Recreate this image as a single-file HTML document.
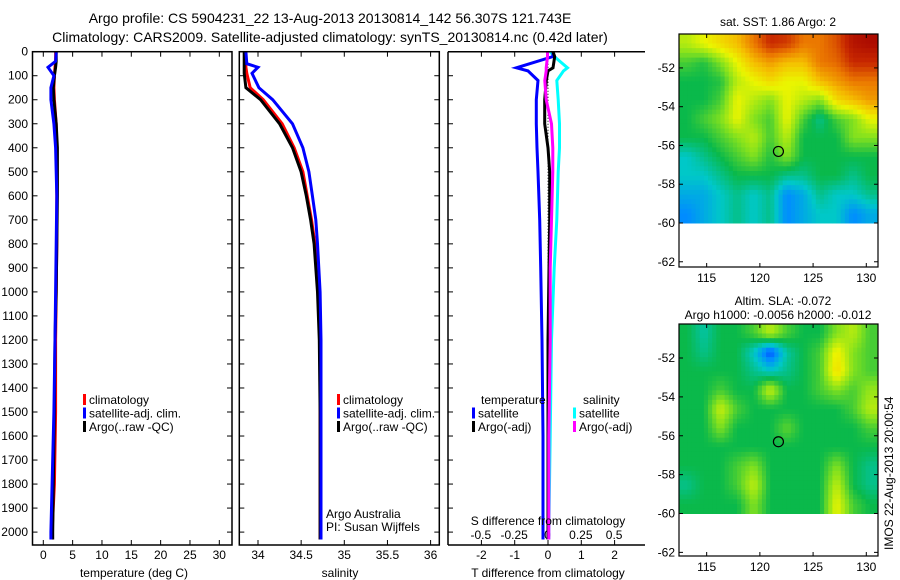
<!DOCTYPE html>
<html><head><meta charset="utf-8"><style>
html,body{margin:0;padding:0;background:#fff;}
svg{display:block;font-family:"Liberation Sans",sans-serif;}
</style></head><body>
<svg id="fig" width="900" height="580" viewBox="0 0 900 580"></svg>
<script>
// ---------- data ----------
const depthT = [0,40,65,100,150,200,300,400,500,600,800,1000,1200,1500,1800,2000,2031];
const argoT  = [2.2,2.2,2.1,1.9,1.7,1.8,2.2,2.4,2.4,2.4,2.3,2.2,2.0,1.9,1.7,1.6,1.6];
const climT  = [2.1,2.1,2.0,1.9,1.8,1.9,2.2,2.3,2.3,2.3,2.3,2.2,2.1,2.1,1.9,1.5,1.4];
const satT   = [2.2,2.1,0.8,1.8,1.3,1.3,1.8,2.1,2.2,2.3,2.2,2.1,2.0,1.8,1.5,1.3,1.3];
const depthS = [0,50,65,90,150,200,300,400,500,600,700,800,1000,1200,1500,2000,2031];
const argoS  = [33.84,33.84,33.84,33.84,33.86,34.03,34.25,34.40,34.50,34.56,34.61,34.65,34.69,34.71,34.72,34.72,34.72];
const climS  = [33.85,33.86,33.86,33.87,33.91,34.06,34.28,34.42,34.52,34.57,34.62,34.66,34.70,34.72,34.72,34.72,34.72];
const satS   = [33.86,33.87,34.00,33.93,34.01,34.17,34.40,34.52,34.59,34.63,34.67,34.69,34.72,34.73,34.73,34.73,34.73];
const depthD = [0,20,67,80,120,200,300,400,500,700,900,1200,1600,2000,2031];
const satTd  = [0.15,0.15,-0.95,-0.6,-0.3,-0.35,-0.35,-0.33,-0.3,-0.25,-0.22,-0.18,-0.15,-0.15,-0.15];
const argoTd = [0.15,0.2,0.15,0.0,-0.05,-0.1,-0.1,0.0,0.05,0.05,0.03,0.0,0.0,0.0,0.0];
const satSd  = [0.02,0.05,0.15,0.12,0.07,0.08,0.09,0.09,0.08,0.07,0.05,0.03,0.02,0.01,0.01];
const argoSd = [0.0,0.0,-0.01,-0.01,-0.02,-0.01,0.03,0.04,0.04,0.03,0.02,0.02,0.01,0.01,0.01];
const depthTicks = [0,100,200,300,400,500,600,700,800,900,1000,1100,1200,1300,1400,1500,1600,1700,1800,1900,2000];
const tempTicks = [0,5,10,15,20,25,30];
const salTicks = [34,34.5,35,35.5,36];
const tdTicks = [-2,-1,0,1,2];
const sdTicks = [-0.5,-0.25,0,0.25,0.5];
const sdTickLabels = ["-0.5","-0.25","0","0.25","0.5"];
const latTicks = [-52,-54,-56,-58,-60,-62];
const lonTicks = [115,120,125,130];
const sstGrid = [
[0.55,0.6,0.65,0.7,0.8,0.9,0.88,0.8,0.8,0.85,0.95,0.97],
[0.45,0.42,0.5,0.6,0.7,0.75,0.7,0.7,0.8,0.82,0.9,0.9],
[0.4,0.4,0.42,0.55,0.6,0.65,0.6,0.6,0.7,0.75,0.8,0.8],
[0.4,0.4,0.45,0.6,0.55,0.5,0.6,0.55,0.5,0.65,0.7,0.75],
[0.4,0.45,0.5,0.6,0.5,0.45,0.6,0.45,0.35,0.45,0.5,0.6],
[0.4,0.4,0.45,0.5,0.55,0.45,0.55,0.4,0.4,0.4,0.5,0.5],
[0.3,0.35,0.4,0.45,0.5,0.42,0.5,0.4,0.4,0.4,0.4,0.4],
[0.3,0.3,0.35,0.4,0.4,0.4,0.35,0.35,0.4,0.4,0.35,0.4],
[0.25,0.25,0.3,0.35,0.3,0.35,0.2,0.25,0.35,0.3,0.3,0.35],
[0.2,0.25,0.3,0.35,0.3,0.35,0.2,0.25,0.3,0.3,0.2,0.25]];
const slaGrid = [
[0.4,0.33,0.4,0.4,0.45,0.55,0.45,0.4,0.4,0.5,0.55,0.45],
[0.4,0.35,0.4,0.4,0.3,0.12,0.33,0.4,0.45,0.62,0.5,0.45],
[0.4,0.4,0.4,0.4,0.35,0.3,0.35,0.4,0.45,0.65,0.5,0.45],
[0.4,0.4,0.45,0.4,0.4,0.57,0.4,0.4,0.45,0.5,0.45,0.52],
[0.4,0.4,0.57,0.45,0.4,0.4,0.4,0.4,0.4,0.4,0.45,0.55],
[0.4,0.4,0.5,0.4,0.4,0.4,0.47,0.4,0.4,0.4,0.4,0.45],
[0.4,0.4,0.4,0.4,0.4,0.4,0.4,0.4,0.4,0.4,0.4,0.4],
[0.4,0.4,0.4,0.45,0.5,0.4,0.4,0.4,0.4,0.5,0.4,0.35],
[0.35,0.4,0.4,0.45,0.56,0.4,0.4,0.4,0.4,0.56,0.4,0.35],
[0.4,0.4,0.4,0.4,0.5,0.4,0.4,0.4,0.4,0.6,0.45,0.4]];
const argoLon = 121.743, argoLat = -56.307;

// ---------- helpers ----------
const NS="http://www.w3.org/2000/svg";
const svg=document.getElementById('fig');
function mk(tag,attrs,parent){const e=document.createElementNS(NS,tag);for(const k in attrs)e.setAttribute(k,attrs[k]);(parent||svg).appendChild(e);return e;}
function txt(s,x,y,anchor,size){const t=mk('text',{x:x,y:y,'text-anchor':anchor||'start','font-size':size||12,fill:'#000'});t.textContent=s;return t;}
const yD = d => 51.7 + d*0.2402;
const xT = v => 43.3 + v*5.867;
const xS = v => 258 + (v-34)*86.3;
const xTd = v => 548 + v*33.3;
const xSd = v => 547.5 + v*133.3;
function line(xs,ds,fx,color,name,w,dash){
  const pts=xs.map((v,i)=>fx(v).toFixed(1)+','+yD(ds[i]).toFixed(1)).join(' ');
  const p=mk('polyline',{points:pts,fill:'none',stroke:color,'stroke-width':w||3,'stroke-linejoin':'miter'});
  if(dash)p.setAttribute('stroke-dasharray',dash);
  
  
}
function frame(x,y,w,h,name){const r=mk('rect',{x:x,y:y,width:w,height:h,fill:'none',stroke:'#000','stroke-width':1.5});
  }

// ---------- titles ----------
let t=txt('Argo profile: CS 5904231_22 13-Aug-2013 20130814_142 56.307S 121.743E',330,23,'middle',14);

t=txt('Climatology: CARS2009. Satellite-adjusted climatology: synTS_20130814.nc (0.42d later)',330,42,'middle',14);


// ---------- panel 1 temperature ----------
const P1={l:32.5,r:232,t:51.7,b:545};
depthTicks.forEach(d=>{const y=yD(d);mk('line',{x1:P1.l,y1:y,x2:P1.l+5,y2:y,stroke:'#000'});mk('line',{x1:P1.r,y1:y,x2:P1.r-5,y2:y,stroke:'#000'});
  const l=txt(String(d),28,y+4,'end',12);});
tempTicks.forEach(v=>{const x=xT(v);mk('line',{x1:x,y1:P1.b,x2:x,y2:P1.b-5,stroke:'#000'});mk('line',{x1:x,y1:P1.t,x2:x,y2:P1.t+5,stroke:'#000'});
  const l=txt(String(v),x,559,'middle',12);});
line(climT,depthT,xT,'#ff0000','clim-temp-line');
line(argoT,depthT,xT,'#000000','argo-temp-line');
line(satT,depthT,xT,'#0000ff','sat-temp-line');
frame(P1.l,P1.t,P1.r-P1.l,P1.b-P1.t,'temperature-panel');
t=txt('temperature (deg C)',134,577,'middle',12);

// ---------- panel 2 salinity ----------
const P2={l:239.3,r:439.3,t:51.7,b:545};
depthTicks.forEach(d=>{const y=yD(d);mk('line',{x1:P2.l,y1:y,x2:P2.l+5,y2:y,stroke:'#000'});mk('line',{x1:P2.r,y1:y,x2:P2.r-5,y2:y,stroke:'#000'});});
salTicks.forEach(v=>{const x=xS(v);mk('line',{x1:x,y1:P2.b,x2:x,y2:P2.b-5,stroke:'#000'});mk('line',{x1:x,y1:P2.t,x2:x,y2:P2.t+5,stroke:'#000'});
  const l=txt(String(v),x,559,'middle',12);});
line(climS,depthS,xS,'#ff0000','clim-salinity-line');
line(argoS,depthS,xS,'#000000','argo-salinity-line');
line(satS,depthS,xS,'#0000ff','sat-salinity-line');
frame(P2.l,P2.t,P2.r-P2.l,P2.b-P2.t,'salinity-panel');
t=txt('salinity',340,577,'middle',12);
t=txt('Argo Australia',326,518,'start',12);
t=txt('PI: Susan Wijffels',326,531,'start',12);

function legend(x,y,items,prefix){items.forEach((it,i)=>{const yy=y+i*13.5;
  const r=mk('rect',{x:x,y:yy-10,width:3,height:11,fill:it[0]});
  const l=txt(it[1],x+6,yy,'start',12);});}
legend(83,404,[['#ff0000','climatology'],['#0000ff','satellite-adj. clim.'],['#000','Argo(..raw -QC)']],'temp');
legend(337,404,[['#ff0000','climatology'],['#0000ff','satellite-adj. clim.'],['#000','Argo(..raw -QC)']],'sal');

// ---------- panel 3 differences ----------
const P3={l:448,r:645,t:51.7,b:545};
depthTicks.forEach(d=>{const y=yD(d);mk('line',{x1:P3.l,y1:y,x2:P3.l+5,y2:y,stroke:'#000'});});
tdTicks.forEach(v=>{const x=xTd(v);mk('line',{x1:x,y1:P3.b,x2:x,y2:P3.b-5,stroke:'#000'});mk('line',{x1:x,y1:P3.t,x2:x,y2:P3.t+5,stroke:'#000'});
  const l=txt(String(v),x,559,'middle',12);});
sdTicks.forEach((v,i)=>{const l=txt(sdTickLabels[i],xSd(v),539,'middle',12);});
line([0,0],[0,2031],xTd,'#000','zero-line',1,'1,2');
line(satSd,depthD,xSd,'#00ffff','sat-sdiff-line');
line(satTd,depthD,xTd,'#0000ff','sat-tdiff-line');
line(argoTd,depthD,xTd,'#000000','argo-tdiff-line');
line(argoSd,depthD,xSd,'#ff00ff','argo-sdiff-line');
mk('line',{x1:P3.l,y1:P3.t,x2:P3.r,y2:P3.t,stroke:'#000','stroke-width':1.5});
mk('line',{x1:P3.l,y1:P3.t,x2:P3.l,y2:P3.b,stroke:'#000','stroke-width':1.5});
mk('line',{x1:P3.l,y1:P3.b,x2:P3.r,y2:P3.b,stroke:'#000','stroke-width':1.5});
t=txt('temperature',481,404,'start',12);
t=txt('salinity',583,404,'start',12);
legend(472,417.5,[['#0000ff','satellite'],['#000','Argo(-adj)']],'tdiff');
legend(573,417.5,[['#00ffff','satellite'],['#ff00ff','Argo(-adj)']],'sdiff');
t=txt('S difference from climatology',548,525,'middle',12);
t=txt('T difference from climatology',548,577,'middle',12);

// ---------- maps ----------
const stops=[[0.1,[0,60,255]],[0.2,[0,140,255]],[0.3,[0,200,200]],[0.4,[10,185,75]],[0.5,[130,225,30]],[0.6,[235,245,0]],[0.7,[245,190,0]],[0.8,[235,120,0]],[0.9,[200,40,0]],[1.0,[160,0,0]]];
function cmap(v){for(let i=1;i<stops.length;i++){if(v<=stops[i][0]){const a=stops[i-1],b=stops[i],f=(v-a[0])/(b[0]-a[0]);
  return 'rgb('+a[1].map((c,k)=>Math.round(c+(b[1][k]-c)*Math.max(0,f))).join(',')+')';}}return 'rgb(160,0,0)';}
function sample(grid,fi,fj){const nr=grid.length,nc=grid[0].length;
  fi=Math.max(0,Math.min(nr-1,fi));fj=Math.max(0,Math.min(nc-1,fj));
  const i0=Math.floor(fi),j0=Math.floor(fj),i1=Math.min(nr-1,i0+1),j1=Math.min(nc-1,j0+1),a=fi-i0,b=fj-j0;
  return grid[i0][j0]*(1-a)*(1-b)+grid[i0][j1]*(1-a)*b+grid[i1][j0]*a*(1-b)+grid[i1][j1]*a*b;}
function map(M,grid,title1,title2,name){
  const lonX=v=>M.l+(v-112.4)*(M.r-M.l)/(131.1-112.4);
  const latY=v=>M.y0+(v-(-50.25))*(M.y60-M.y0)/(-60-(-50.25));
  const g=mk('g',{});
  const nr=grid.length,nc=grid[0].length,S=4;
  const cw=(M.r-M.l)/(nc*S),ch=(M.y60-M.y0)/(nr*S);
  for(let i=0;i<nr*S;i++)for(let j=0;j<nc*S;j++){
    const v=sample(grid,(i+0.5)/S-0.5,(j+0.5)/S-0.5);
    const c=mk('rect',{x:(M.l+j*cw).toFixed(2),y:(M.y0+i*ch).toFixed(2),width:(cw+0.5).toFixed(2),height:(ch+0.5).toFixed(2),fill:cmap(v)},g);
    }
  const c=mk('circle',{cx:lonX(argoLon),cy:latY(argoLat),r:5,fill:'none',stroke:'#000','stroke-width':1.2},g);
  
  mk('rect',{x:M.l,y:M.y0,width:M.r-M.l,height:M.b-M.y0,fill:'none',stroke:'#000','stroke-width':1.2},g);
  latTicks.forEach(v=>{const y=latY(v);mk('line',{x1:M.l,y1:y,x2:M.l+4,y2:y,stroke:'#000'},g);mk('line',{x1:M.r,y1:y,x2:M.r-4,y2:y,stroke:'#000'},g);
    const l=txt(String(v),M.l-4,y+4,'end',12);});
  lonTicks.forEach(v=>{const x=lonX(v);mk('line',{x1:x,y1:M.b,x2:x,y2:M.b-4,stroke:'#000'},g);mk('line',{x1:x,y1:M.y0,x2:x,y2:M.y0+4,stroke:'#000'},g);
    const l=txt(String(v),x,M.b+15,'middle',12);});
  if(title2){let a=txt(title1,783,M.y0-19,'middle',12);
    a=txt(title2,778,M.y0-5,'middle',12);}
  else{let a=txt(title1,778,M.y0-8,'middle',12);}
}
map({l:679,r:878,y0:34,y60:223,b:267},sstGrid,'sat. SST: 1.86 Argo: 2',null,'sst-map');
map({l:679,r:878,y0:324,y60:513.5,b:556},slaGrid,'Altim. SLA: -0.072','Argo h1000: -0.0056 h2000: -0.012','sla-map');

t=txt('IMOS 22-Aug-2013 20:00:54',0,0,'start',12);
t.setAttribute('transform','translate(893,550) rotate(-90)');

</script>
</body></html>
